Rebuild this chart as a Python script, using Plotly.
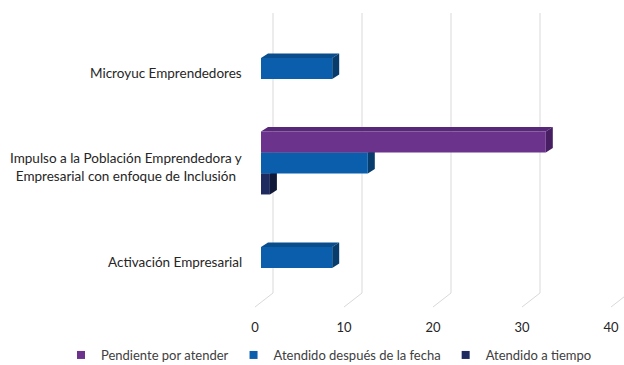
import plotly.graph_objects as go

# Categories (bottom to top) and series values
categories = [
    "Activación Empresarial",
    "Impulso a la Población Emprendedora y<br>Empresarial con enfoque de Inclusión",
    "Microyuc Emprendedores",
]
atendido_a_tiempo = [0, 1, 0]
atendido_despues = [8, 12, 8]
pendiente = [0, 32, 0]
tick_values = [0, 10, 20, 30, 40]

series = [
    # name, values, front, top face, side face, legend rank
    ("Atendido a tiempo", atendido_a_tiempo, "#1f2b5e", "#18224c", "#111938", 3),
    ("Atendido después de la fecha", atendido_despues, "#0b5eab", "#0a4d8c", "#073c6d", 2),
    ("Pendiente por atender", pendiente, "#6b338c", "#582878", "#481e62", 1),
]

# ---- geometry of the plotting area (pixels) ----
W_FIG, H_FIG = 624, 365
M_L, M_R, M_T, M_B = 250, 0, 10, 53
PX_PER_X = 8.9          # pixels per unit on the value axis
X0_PX = 261             # pixel where value 0 sits on the bar fronts
PX_PER_Y = 94.5         # pixels per category band
TOP_CAT_PX = 68.5       # pixel centre of the top category
LEGEND_PX = 355         # pixel row of the legend
LEGEND_LEFT_PX = 61     # pixel column where the legend starts

plot_w = W_FIG - M_L - M_R
plot_h = H_FIG - M_T - M_B
x_lo = (M_L - X0_PX) / PX_PER_X
x_hi = x_lo + plot_w / PX_PER_X
y_hi = (len(categories) - 1) + (TOP_CAT_PX - M_T) / PX_PER_Y
y_lo = y_hi - plot_h / PX_PER_Y


def y_at(py):
    """Data y for a pixel row inside the figure."""
    return y_hi - (py - M_T) / PX_PER_Y


BAR_W = 0.222                    # bar thickness in category units
DEPTH_DX = 7 / PX_PER_X          # bar extrusion, horizontal
DEPTH_DY = 4.5 / PX_PER_Y        # bar extrusion, vertical
WALL_DX = 12 / PX_PER_X          # back wall offset from bar fronts
FLOOR_DX = -6 / PX_PER_X         # front floor edge offset
GRID_TOP, GRID_BOTTOM, FLOOR_FRONT = y_at(13), y_at(293), y_at(307)

fig = go.Figure()
shapes = []

# back-wall gridlines folding down onto the floor
for v in tick_values:
    xb = v + WALL_DX
    xf = v + FLOOR_DX
    shapes.append(dict(
        type="path", xref="x", yref="y", layer="below",
        path=f"M {xb},{GRID_TOP} L {xb},{GRID_BOTTOM} L {xf},{FLOOR_FRONT}",
        line=dict(color="#d9d9d9", width=1),
    ))

n = len(series)
for k, (name, vals, c_front, c_top, c_side, rank) in enumerate(series):
    offset = -n * BAR_W / 2 + k * BAR_W
    fig.add_trace(go.Bar(
        x=vals, y=list(range(len(categories))), orientation="h",
        width=BAR_W, offset=offset, name=name,
        marker=dict(color=c_front, line=dict(width=0)),
        showlegend=False, hoverinfo="x+name",
    ))
    # extruded top and side faces of each bar
    for i, v in enumerate(vals):
        if v <= 0:
            continue
        yb = i + offset
        yt = yb + BAR_W
        shapes.append(dict(
            type="path", xref="x", yref="y", layer="below",
            path=(f"M 0,{yt} L {v},{yt} L {v + DEPTH_DX},{yt + DEPTH_DY} "
                  f"L {DEPTH_DX},{yt + DEPTH_DY} Z"),
            fillcolor=c_top, line=dict(width=0),
        ))
        shapes.append(dict(
            type="path", xref="x", yref="y", layer="below",
            path=(f"M {v},{yb} L {v},{yt} L {v + DEPTH_DX},{yt + DEPTH_DY} "
                  f"L {v + DEPTH_DX},{yb + DEPTH_DY} Z"),
            fillcolor=c_side, line=dict(width=0),
        ))
    # legend swatch
    fig.add_trace(go.Scatter(
        x=[None], y=[None], mode="markers", name=name,
        marker=dict(symbol="square", size=8, color=c_front),
        legendrank=rank, showlegend=True,
    ))

# category labels, centred line by line
annotations = []
for i, cat in enumerate(categories):
    annotations.append(dict(
        xref="paper", yref="y", x=0, y=i, xanchor="right", yanchor="middle",
        xshift=-6, yshift=-4, text=cat, showarrow=False, align="center",
        font=dict(family="Lato, Carlito, sans-serif", size=13.5, color="#262626"),
    ))

fig.update_layout(
    width=W_FIG, height=H_FIG,
    margin=dict(l=M_L, r=M_R, t=M_T, b=M_B, autoexpand=False),
    paper_bgcolor="white", plot_bgcolor="white",
    barmode="overlay",
    shapes=shapes, annotations=annotations,
    xaxis=dict(
        range=[x_lo, x_hi], tickvals=tick_values, showgrid=False,
        zeroline=False, showline=False,
        ticks="outside", ticklen=3, tickcolor="rgba(0,0,0,0)",
        ticklabelshift=-6,
        tickfont=dict(family="Lato, Carlito, sans-serif", size=13, color="#262626"),
        fixedrange=True,
    ),
    yaxis=dict(
        range=[y_lo, y_hi], showticklabels=False, showgrid=False,
        zeroline=False, showline=False, fixedrange=True,
    ),
    legend=dict(
        orientation="h", xref="paper", yref="paper",
        x=(LEGEND_LEFT_PX - M_L) / plot_w,
        y=-(LEGEND_PX - (H_FIG - M_B)) / plot_h,
        xanchor="left", yanchor="middle",
        font=dict(family="Lato, Carlito, sans-serif", size=13, color="#404040"),
        itemwidth=30, bgcolor="rgba(0,0,0,0)",
    ),
    showlegend=True,
)

fig.write_html("out.html")
